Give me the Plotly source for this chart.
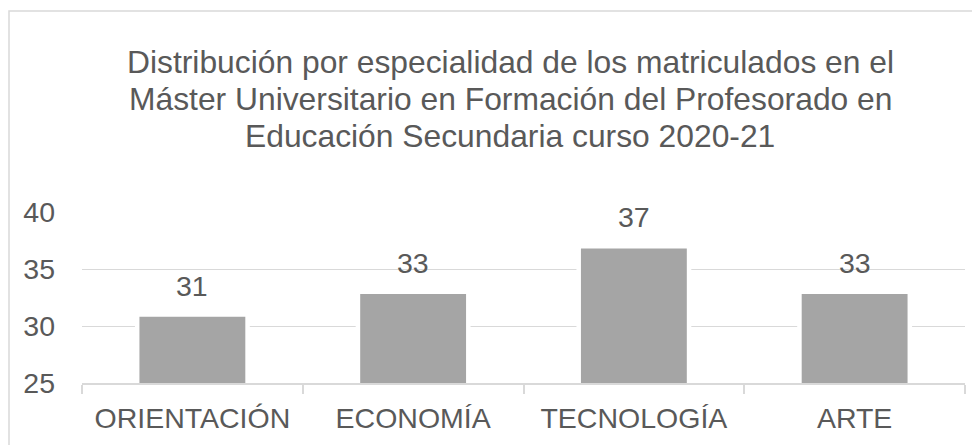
import plotly.graph_objects as go

categories = ["ORIENTACIÓN", "ECONOMÍA", "TECNOLOGÍA", "ARTE"]
values = [31, 33, 37, 33]
y_ticks = [25, 30, 35, 40]
title_lines = [
    "Distribución por especialidad de los matriculados en el",
    "Máster Universitario en Formación del Profesorado en",
    "Educación Secundaria curso 2020-21",
]

FONT = "Liberation Sans, Arial, sans-serif"
TXT = "#595959"
GRID = "#d9d9d9"

OFF = 8  # default page body margin
W, H = 980 - OFF, 445 - OFF
# plot area in window pixels: x 82..965, y 212..383
L = 82 - OFF
R = 980 - 965
T = 212 - OFF
B = 445 - 383
ph = 383 - 212
pw = 965 - 82

def py(pix):
    return (383 - pix) / ph

def px(pix):
    return (pix - 82) / pw

fig = go.Figure(go.Bar(
    x=categories, y=values, width=0.5,
    marker=dict(color="#a5a5a5", line=dict(color="white", width=4.5)),
    hoverinfo="skip",
))

annotations = []
for cat, v in zip(categories, values):
    annotations.append(dict(x=cat, y=v, xref="x", yref="y", text=str(v),
                            showarrow=False, yanchor="bottom", yshift=11,
                            font=dict(family=FONT, size=28.5, color=TXT)))
for i, line in enumerate(title_lines):
    annotations.append(dict(x=px(510), y=py(62 + 37 * i), xref="paper", yref="paper",
                            text=line, showarrow=False, xanchor="center", yanchor="middle",
                            font=dict(family=FONT, size=31.8, color=TXT)))

fig.update_layout(
    width=W, height=H,
    margin=dict(l=L, r=R, t=T, b=B, pad=0),
    paper_bgcolor="white", plot_bgcolor="white",
    showlegend=False,
    annotations=annotations,
    shapes=[dict(type="rect", xref="paper", yref="paper",
                 x0=px(9), x1=px(1100), y0=py(600), y1=py(11),
                 line=dict(color=GRID, width=1.5), layer="below")],
    xaxis=dict(
        showline=True, linecolor=GRID, linewidth=1.5,
        ticks="outside", ticklen=9, tickcolor=GRID, tickwidth=1.5,
        tickson="boundaries", showgrid=False,
        tickfont=dict(family=FONT, size=28.5, color=TXT),
        ticklabelstandoff=9,
        fixedrange=True,
    ),
    yaxis=dict(
        range=[25, 40], tickvals=y_ticks, showgrid=True, gridcolor=GRID, gridwidth=1.3,
        zeroline=False, showline=False, ticks="",
        tickfont=dict(family=FONT, size=28.5, color=TXT),
        ticklabelstandoff=26,
        fixedrange=True,
    ),
)

fig.write_html("out.html", config={"displayModeBar": False})
